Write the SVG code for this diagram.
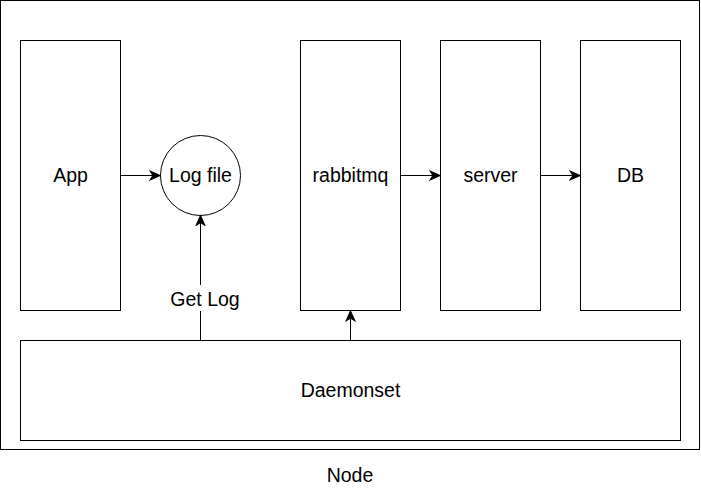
<svg xmlns="http://www.w3.org/2000/svg" width="701" height="491" viewBox="0 0 701 491">
  <style>
    .box { fill: #ffffff; stroke: #000000; stroke-width: 1; }
    .lbl { font-family: "Liberation Sans", Arial, sans-serif; font-size: 19.5px; fill: #000000; text-anchor: middle; }
    .edge { fill: none; stroke: #000000; stroke-width: 1; marker-end: url(#arrow); }
  </style>
  <defs>
    <marker id="arrow" markerUnits="userSpaceOnUse" markerWidth="12" markerHeight="12" viewBox="-10 -5 11 10" refX="0" refY="0" orient="auto">
      <path d="M0,0 L-9,-4 L-6.5,0 L-9,4 Z" fill="#000000" stroke="#000000" stroke-width="1" stroke-linejoin="miter"/>
    </marker>
  </defs>
  <rect width="701" height="491" fill="#ffffff"/>
  <g id="node-container">
    <rect class="box" x="0.5" y="0.5" width="699" height="449"/>
    <text class="lbl" x="350" y="482">Node</text>
  </g>
  <g id="app">
    <rect class="box" x="20.5" y="40.5" width="100" height="270"/>
    <text class="lbl" x="70.5" y="182">App</text>
  </g>
  <g id="logfile">
    <circle class="box" cx="200.5" cy="175.5" r="40"/>
    <text class="lbl" x="200.5" y="182">Log file</text>
  </g>
  <g id="rabbitmq">
    <rect class="box" x="300.5" y="40.5" width="100" height="270"/>
    <text class="lbl" x="350.5" y="182">rabbitmq</text>
  </g>
  <g id="server">
    <rect class="box" x="440.5" y="40.5" width="100" height="270"/>
    <text class="lbl" x="490.5" y="182">server</text>
  </g>
  <g id="db">
    <rect class="box" x="580.5" y="40.5" width="100" height="270"/>
    <text class="lbl" x="630.5" y="182">DB</text>
  </g>
  <g id="daemonset">
    <rect class="box" x="20.5" y="340.5" width="660" height="100"/>
    <text class="lbl" x="350.5" y="397">Daemonset</text>
  </g>
  <g id="connectors">
    <path class="edge" d="M120.5,175.5 L160,175.5"/>
    <path class="edge" d="M200.5,340.5 L200.5,215.5"/>
    <rect x="168" y="285" width="72" height="26" fill="#ffffff"/>
    <text class="lbl" x="205" y="306">Get Log</text>
    <path class="edge" d="M350.5,340.5 L350.5,311"/>
    <path class="edge" d="M400.5,175.5 L440,175.5"/>
    <path class="edge" d="M540.5,175.5 L580,175.5"/>
  </g>
</svg>
